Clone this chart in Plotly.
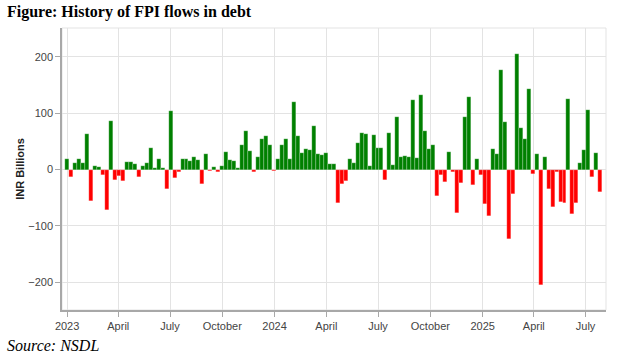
import pandas as pd
import plotly.graph_objects as go

# Weekly FPI debt flows (INR billions), first week starting 2023-01-01
start_week = "2023-01-01"
flows = [
    18, -14, 12, 19, 11, 63, -55, 7, 4, -10,
    -72, 87, -18, -11, -20, 13, 13, 10, -14, 7,
    11, 39, 3, 19, 2, -34, 103, -15, -5, 18,
    18, 15, 22, 17, -25, 27, -2, 4, -5, 6,
    31, 17, 15, 2, 43, 68, 33, -4, 23, 55,
    59, 43, -3, 18, 44, 55, 18, 119, 60, 30,
    36, 34, 78, 28, 26, 29, 10, 9, -60, -26,
    -20, 18, 11, 47, 65, 63, 6, 61, 39, 39,
    -18, 64, 8, 94, 22, 24, 23, 123, 20, 133,
    69, 37, 44, -46, -10, -22, 31, -4, -77, -23,
    93, 129, -28, 19, -10, -61, -82, 37, 27, 176,
    84, -123, -43, 205, 73, 55, 142, -7, 28, -204,
    22, -35, -67, -5, -57, -60, 126, -78, -59, 11,
    35, 106, -13, 30, -40,
]
tick_dates = ["2023-01-01", "2023-04-01", "2023-07-01", "2023-10-01",
              "2024-01-01", "2024-04-01", "2024-07-01", "2024-10-01",
              "2025-01-01", "2025-04-01", "2025-07-01"]
tick_labels = ["2023", "April", "July", "October", "2024", "April",
               "July", "October", "2025", "April", "July"]
y_ticks = [-200, -100, 0, 100, 200]

weeks = pd.date_range(start_week, periods=len(flows), freq="7D")
colors = ["#008000" if v >= 0 else "#ff0000" for v in flows]

fig = go.Figure(go.Bar(
    x=weeks, y=flows,
    marker=dict(color=colors, line=dict(width=0.4, color="rgba(255,255,255,0.6)")),
    hoverinfo="x+y",
))

fig.update_layout(
    width=620, height=359,
    margin=dict(l=62, r=14, t=28, b=49, autoexpand=False),
    paper_bgcolor="white", plot_bgcolor="white",
    bargap=0,
    showlegend=False,
    font=dict(family="Liberation Sans, Arial, sans-serif", size=11, color="#444"),
    annotations=[
        dict(text="<b>Figure: History of FPI flows in debt</b>", xref="paper", yref="paper",
             x=-0.104, y=1.0, yshift=27, xanchor="left", yanchor="top", showarrow=False,
             font=dict(family="Liberation Serif, Times New Roman, serif", size=16, color="black")),
        dict(text="<i>Source: NSDL</i>", xref="paper", yref="paper",
             x=-0.104, y=0, yshift=-25, xanchor="left", yanchor="top", showarrow=False,
             font=dict(family="Liberation Serif, Times New Roman, serif", size=16, color="black")),
    ],
    shapes=[dict(type="rect", xref="paper", yref="paper", x0=0, x1=1, y0=0, y1=1,
                 line=dict(color="#e3e3e3", width=1), layer="below")],
)

fig.update_xaxes(
    type="date",
    range=["2022-12-23", "2025-08-06"],
    tickvals=tick_dates, ticktext=tick_labels,
    showgrid=True, gridcolor="#e3e3e3", gridwidth=1,
    showline=True, linecolor="#a8a8a8", linewidth=1.5,
    ticks="outside", ticklen=5, tickcolor="#a8a8a8",
    tickfont=dict(size=11, color="#444"),
    automargin=False,
)
fig.update_yaxes(
    range=[-249, 251],
    tickvals=y_ticks,
    showgrid=True, gridcolor="#e3e3e3", gridwidth=1,
    zeroline=False,
    showline=True, linecolor="#a8a8a8", linewidth=1.5,
    ticks="outside", ticklen=5, tickcolor="#a8a8a8",
    tickfont=dict(size=11, color="#444"),
    title=dict(text="<b>INR Billions</b>", font=dict(size=11, color="#222"), standoff=1),
    automargin=False,
)

fig.write_html("out.html",
               config={"displayModeBar": False},
               post_script="document.body.style.margin='0';document.body.style.padding='0';")
